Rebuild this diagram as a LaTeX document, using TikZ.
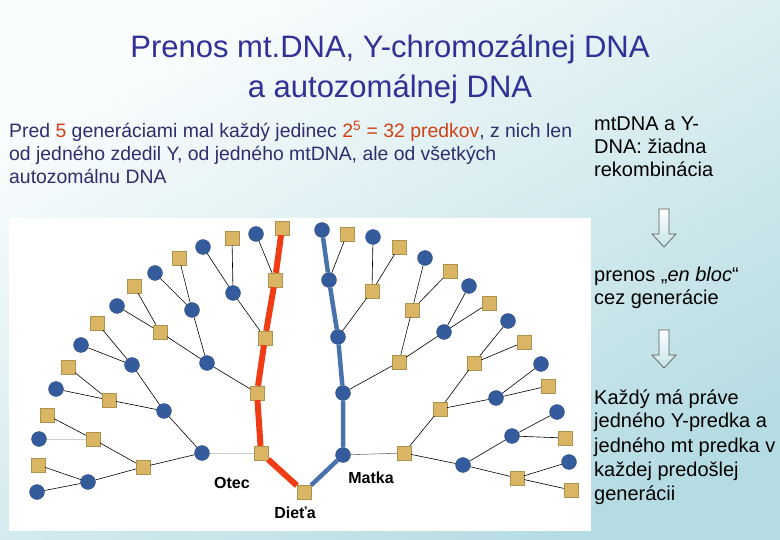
\documentclass[tikz,border=0pt]{standalone}
\usepackage{fontspec}
\setmainfont{Liberation Sans}
\definecolor{titleblue}{RGB}{48,48,150}
\definecolor{textnavy}{RGB}{46,46,110}
\definecolor{hilite}{RGB}{210,65,20}
\definecolor{gold}{RGB}{218,182,100}
\definecolor{dnablue}{RGB}{52,92,156}
\definecolor{ylred}{RGB}{240,60,20}
\definecolor{mtblue}{RGB}{72,114,172}
\definecolor{bgA}{RGB}{250,253,253}
\definecolor{bgB}{RGB}{182,220,227}
\newcommand{\hl}[1]{\textcolor{hilite}{#1}}
\tikzset{
  sq/.style={draw=gold!80!black, line width=0.3pt, fill=gold, minimum size=14pt, inner sep=0pt},
  ci/.style={circle, draw=dnablue!80!black, line width=0.3pt, fill=dnablue, minimum size=15pt, inner sep=0pt},
  edge/.style={line width=0.6pt, black},
  faint/.style={line width=0.8pt, black!20},
  yline/.style={line width=6pt, ylred},
  mtline/.style={line width=4.5pt, mtblue},
  hollow/.style={draw=black!65, line width=0.7pt, top color=white, bottom color=bgB!80},
  title/.style={anchor=base, inner sep=0pt, text=titleblue, font=\fontsize{31}{31}\selectfont},
  body/.style={anchor=base west, inner sep=0pt, text=textnavy, font=\fontsize{19.4}{19.4}\selectfont},
  side/.style={anchor=base west, inner sep=0pt, font=\fontsize{20}{20}\selectfont},
  lbl/.style={inner sep=0pt, font=\bfseries\fontsize{16}{16}\selectfont}
}
\begin{document}
\begin{tikzpicture}[x=1pt, y=-1pt]
\useasboundingbox (0,0) rectangle (780,540);
% background and tree panel
\shade[top color=bgA, bottom color=bgB, shading angle=30] (0,0) rectangle (780,540);
\fill[white] (9,218) rectangle (591,531);
% texts
\node[title] (title1) at (390,58) {Prenos mt.DNA, Y-chromozálnej DNA};
\node[title] (title2) at (390,98) {a autozomálnej DNA};
\node[body] (intro1) at (9,138) {Pred \hl{5} generáciami mal každý jedinec \hl{2\textsuperscript{5} = 32 predkov}, z nich len};
\node[body] (intro2) at (9,161) {od jedného zdedil Y, od jedného mtDNA, ale od všetkých};
\node[body] (intro3) at (9,184) {autozomálnu DNA};
\node[side] (r1) at (594,131) {mtDNA a Y-};
\node[side] (r2) at (594,154) {DNA: žiadna};
\node[side] (r3) at (594,177) {rekombinácia};
\node[side] (r4) at (594,282) {prenos „\textit{en bloc}“};
\node[side] (r5) at (594,305) {cez generácie};
\node[side] (r6) at (594,405) {Každý má práve};
\node[side] (r7) at (594,428) {jedného Y-predka a};
\node[side] (r8) at (594,452) {jedného mt predka v};
\node[side] (r9) at (594,476) {každej predošlej};
\node[side] (r10) at (594,500) {generácii};
% hollow arrows
\draw[hollow] (659,209) -- ++(10,0) -- ++(0,25) -- ++(7,0) -- ++(-12,13) -- ++(-12,-13) -- ++(7,0) -- cycle;
\draw[hollow] (659,330) -- ++(10,0) -- ++(0,25) -- ++(7,0) -- ++(-12,13) -- ++(-12,-13) -- ++(7,0) -- cycle;
% child and parents
\node[sq] (d) at (304,492) {};
\node[sq] (o) at (261,453) {};
\node[ci] (m) at (343,455) {};
% grandparents
\node[sq] (of) at (257,393) {}; \node[ci] (om) at (202,453) {};
\node[sq] (mf) at (404,453) {}; \node[ci] (mm) at (343,393) {};
% generation 3
\node[sq] (off) at (265,338) {}; \node[ci] (ofm) at (207,363) {};
\node[sq] (omf) at (143,467) {}; \node[ci] (omm) at (164,411) {};
\node[sq] (mmf) at (399,362) {}; \node[ci] (mmm) at (338,337) {};
\node[sq] (mff) at (440,409) {}; \node[ci] (mfm) at (463,465) {};
% generation 4
\node[sq] (offf) at (275,280) {}; \node[ci] (offm) at (233,293) {};
\node[sq] (ofmf) at (160,332) {}; \node[ci] (ofmm) at (192,310) {};
\node[sq] (omff) at (93,439) {};  \node[ci] (omfm) at (88,482) {};
\node[sq] (ommf) at (109,400) {}; \node[ci] (ommm) at (132,365) {};
\node[sq] (mmmf) at (372,291) {}; \node[ci] (mmmm) at (329,280) {};
\node[sq] (mmff) at (412,310) {}; \node[ci] (mmfm) at (444,332) {};
\node[sq] (mfff) at (474,363) {}; \node[ci] (mffm) at (496,398) {};
\node[sq] (mfmf) at (517,478) {}; \node[ci] (mfmm) at (512,436) {};
% generation 5
\node[sq] (offff) at (282,228) {}; \node[ci] (offfm) at (256,234) {};
\node[sq] (offmf) at (232,238) {}; \node[ci] (offmm) at (203,247) {};
\node[sq] (ofmff) at (134,286) {}; \node[ci] (ofmfm) at (117,306) {};
\node[sq] (ofmmf) at (179,258) {}; \node[ci] (ofmmm) at (155,273) {};
\node[sq] (omfff) at (47,415) {};  \node[ci] (omffm) at (39,439) {};
\node[sq] (omfmf) at (38,465) {};  \node[ci] (omfmm) at (37,492) {};
\node[sq] (ommff) at (68,367) {};  \node[ci] (ommfm) at (56,389) {};
\node[sq] (ommmf) at (97,323) {};  \node[ci] (ommmm) at (81,345) {};
\node[sq] (mmmmf) at (347,234) {}; \node[ci] (mmmmm) at (322,230) {};
\node[sq] (mmmff) at (399,247) {}; \node[ci] (mmmfm) at (373,237) {};
\node[sq] (mmfff) at (450,271) {}; \node[ci] (mmffm) at (425,258) {};
\node[sq] (mmfmf) at (489,303) {}; \node[ci] (mmfmm) at (469,286) {};
\node[sq] (mffff) at (524,342) {}; \node[ci] (mfffm) at (508,321) {};
\node[sq] (mffmf) at (548,386) {}; \node[ci] (mffmm) at (541,364) {};
\node[sq] (mfmff) at (571,490) {}; \node[ci] (mfmfm) at (569,462) {};
\node[sq] (mfmmf) at (565,438) {}; \node[ci] (mfmmm) at (557,412) {};
% Y line and mt line
\draw[yline] (d) -- (o) (o) -- (of) (of) -- (off) (off) -- (offf) (offf) -- (offff);
\draw[mtline] (d) -- (m) (m) -- (mm) (mm) -- (mmm) (mmm) -- (mmmm) (mmmm) -- (mmmmm);
\draw[faint] (o) -- (om) (omff) -- (omffm);
\draw[edge, black!55] (m) -- (mf);
% father's side
\draw[edge] (of) -- (ofm) (om) -- (omf) (om) -- (omm)
  (off) -- (offm) (ofm) -- (ofmf) (ofm) -- (ofmm)
  (omf) -- (omff) (omf) -- (omfm) (omm) -- (ommf) (omm) -- (ommm)
  (offf) -- (offfm) (offm) -- (offmf) (offm) -- (offmm)
  (ofmf) -- (ofmff) (ofmf) -- (ofmfm) (ofmm) -- (ofmmf) (ofmm) -- (ofmmm)
  (omff) -- (omfff) (omfm) -- (omfmf) (omfm) -- (omfmm)
  (ommf) -- (ommff) (ommf) -- (ommfm) (ommm) -- (ommmf) (ommm) -- (ommmm);
% mother's side
\draw[edge] (mm) -- (mmf) (mf) -- (mff) (mf) -- (mfm)
  (mmm) -- (mmmf) (mmf) -- (mmff) (mmf) -- (mmfm)
  (mff) -- (mfff) (mff) -- (mffm) (mfm) -- (mfmf) (mfm) -- (mfmm)
  (mmmm) -- (mmmmf) (mmmf) -- (mmmff) (mmmf) -- (mmmfm)
  (mmff) -- (mmfff) (mmff) -- (mmffm) (mmfm) -- (mmfmf) (mmfm) -- (mmfmm)
  (mfff) -- (mffff) (mfff) -- (mfffm) (mffm) -- (mffmf) (mffm) -- (mffmm)
  (mfmf) -- (mfmff) (mfmf) -- (mfmfm) (mfmm) -- (mfmmf) (mfmm) -- (mfmmm);
% labels
\node[lbl] (otec) at (232,483) {Otec};
\node[lbl] (matka) at (371,478) {Matka};
\node[lbl] (dieta) at (295,513) {Dieťa};
\end{tikzpicture}
\end{document}
